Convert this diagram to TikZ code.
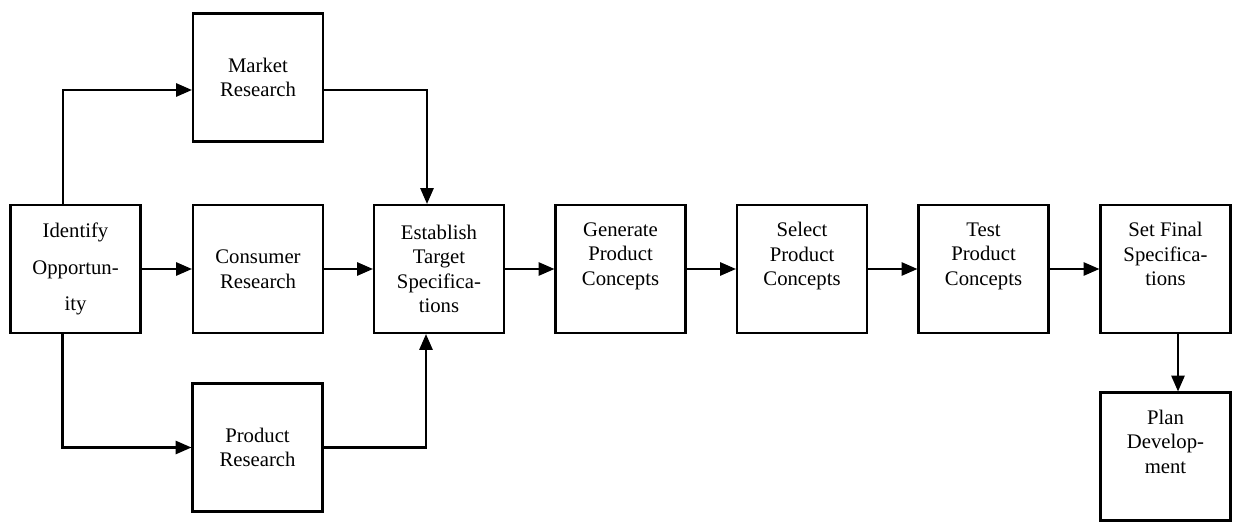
\documentclass[tikz,border=0pt]{standalone}
\usepackage{fontspec}
\setmainfont{Liberation Serif}
\usetikzlibrary{arrows.meta}

\begin{document}
\begin{tikzpicture}[
    box/.style={draw, line width=1.2pt, minimum width=2.6cm, minimum height=2.56cm,
        inner sep=0pt, align=center, font=\fontsize{11.8pt}{14pt}\selectfont},
    topbox/.style={box, text depth=17pt},
    flow/.style={line width=1.2pt, -{Triangle[length=9pt,width=7.5pt]}}
]
        \useasboundingbox (0,0) rectangle (24.68,10.42);

        % Start and the three research boxes
        \node[box] (ident) at (1.51,5.04) {Identify\\[7pt]Opportun-\\[7pt]ity};
        \node[box] (market) at (5.16,8.87) {Market\\Research};
        \node[box] (consumer) at (5.16,5.04) {Consumer\\Research};
        \node[box] (product) at (5.15,1.47) {Product\\Research};

        % Main row
        \node[box] (target) at (8.78,5.04) {Establish\\Target\\Specifica-\\tions};
        \node[topbox] (generate) at (12.41,5.04) {Generate\\Product\\Concepts};
        \node[topbox] (select) at (16.04,5.04) {Select\\Product\\Concepts};
        \node[topbox] (test) at (19.67,5.04) {Test\\Product\\Concepts};
        \node[topbox] (final) at (23.31,5.04) {Set Final\\Specifica-\\tions};
        \node[topbox] (plan) at (23.31,1.29) {Plan\\Develop-\\ment};

        % Research branches
        \draw[flow] ([xshift=-0.25cm]ident.north) |- ([yshift=-0.25cm]market.west);
        \draw[flow] (ident) -- (consumer);
        \draw[flow] ([xshift=-0.26cm]ident.south) |- (product.west);
        \draw[flow] ([yshift=-0.25cm]market.east) -| ([xshift=-0.24cm]target.north);
        \draw[flow] (consumer) -- (target);
        \draw[flow] (product.east) -| ([xshift=-0.26cm]target.south);

        % Concept steps
        \draw[flow] (target) -- (generate);
        \draw[flow] (generate) -- (select);
        \draw[flow] (select) -- (test);
        \draw[flow] (test) -- (final);
        \draw[flow] ([xshift=0.25cm]final.south) -- ([xshift=0.25cm]plan.north);
\end{tikzpicture}
\end{document}
